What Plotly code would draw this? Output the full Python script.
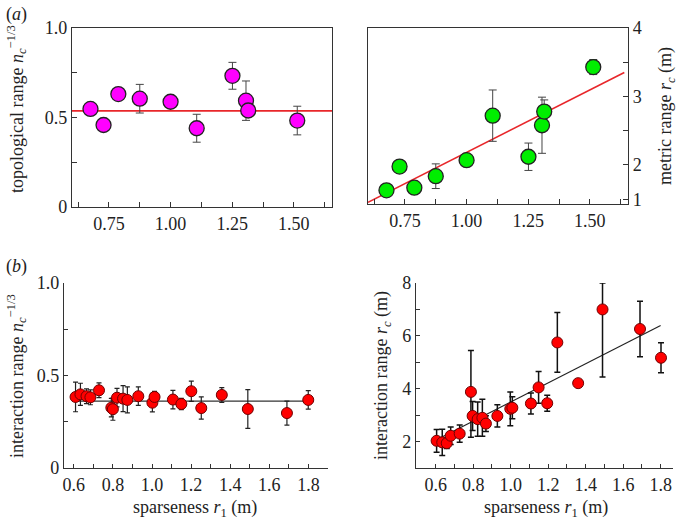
import plotly.graph_objects as go

# ---------------- data ----------------
# (a) left: topological range
a_x = [0.675, 0.728, 0.788, 0.875, 1.000, 1.106, 1.251, 1.306, 1.315, 1.514]
a_topo = [0.548, 0.458, 0.631, 0.605, 0.588, 0.440, 0.733, 0.594, 0.539, 0.483]
a_topo_err = [0, 0, 0, 0.080, 0, 0.078, 0.075, 0.110, 0, 0.080]
# (a) right: metric range
a_metric = [1.63, 1.976, 1.668, 1.836, 2.07, 2.72, 2.12, 2.58, 2.78, 3.43]
a_metric_err = [0, 0, 0, 0.18, 0, 0.375, 0.20, 0.41, 0.17, 0.11]

# (b) left: interaction range n_c^-1/3
b_x = [0.609, 0.634, 0.665, 0.685, 0.729, 0.792, 0.800, 0.821, 0.852, 0.874, 0.930,
       1.002, 1.013, 1.107, 1.150, 1.201, 1.252, 1.357, 1.490, 1.690, 1.799]
b_topo = [0.384, 0.398, 0.388, 0.382, 0.420, 0.326, 0.318, 0.380, 0.375, 0.368, 0.388,
          0.353, 0.384, 0.370, 0.346, 0.415, 0.324, 0.395, 0.319, 0.297, 0.368]
b_topo_err = [0.08, 0.06, 0.04, 0.04, 0.04, 0.05, 0.06, 0.05, 0.07, 0.07, 0.05,
              0.05, 0.03, 0.05, 0.03, 0.055, 0.06, 0.04, 0.105, 0.065, 0.05]

# (b) right: interaction range r_c
c_x = [0.605, 0.635, 0.659, 0.680, 0.728, 0.788, 0.797, 0.824, 0.849, 0.868, 0.929,
       0.998, 1.009, 1.108, 1.149, 1.195, 1.249, 1.360, 1.490, 1.690, 1.802]
c_metric = [2.03, 1.97, 1.94, 2.22, 2.30, 3.88, 2.97, 2.85, 2.90, 2.68, 2.97,
            3.24, 3.28, 3.44, 4.05, 3.45, 5.75, 4.21, 7.00, 6.26, 5.17]
c_err_plus = [0.43, 0.50, 0.20, 0.33, 0.33, 1.57, 0.55, 0.65, 0.70, 0.30, 0.42,
              0.64, 0.42, 0.40, 0.60, 0.30, 1.13, 0.0, 1.00, 1.05, 0.57]
c_err_minus = [0.43, 0.50, 0.20, 0.33, 0.33, 1.72, 0.55, 0.65, 0.70, 0.30, 0.42,
               0.64, 0.42, 0.40, 0.60, 0.30, 1.13, 0.0, 2.56, 1.05, 0.57]

# fit lines (slope, intercept, x-extent)
fit_a_topo = (0.0, 0.537, 0.60, 1.655)
fit_a_metric = (1.824, 0.359, 0.60, 1.64)
fit_b_topo = (0.0, 0.362, 0.61, 1.80)
fit_b_metric = (3.62, -0.123, 0.61, 1.80)

# tick labels
a_xticks = [0.75, 1.00, 1.25, 1.50]
a_xticktext = ["0.75", "1.00", "1.25", "1.50"]
a_metric_tickvals = [1.5, 2.0, 2.5, 3.0, 3.5, 4.0]
a_metric_ticktext = ["1", "2", "", "3", "", "4"]
b_xticks = [0.6, 0.8, 1.0, 1.2, 1.4, 1.6, 1.8]
b_xticktext = ["0.6", "0.8", "1.0", "1.2", "1.4", "1.6", "1.8"]


def fit_line(p):
    s, b, x0, x1 = p
    return [x0, x1], [b + s * x0, b + s * x1]


FONT = "Liberation Serif"
W, H = 680, 519

fig = go.Figure()

# ---- (a) left ----
fx, fy = fit_line(fit_a_topo)
fig.add_trace(go.Scatter(x=fx, y=fy, mode="lines", line=dict(color="#e8262a", width=1.6),
                         xaxis="x", yaxis="y", hoverinfo="skip"))
fig.add_trace(go.Scatter(
    x=a_x, y=a_topo, mode="markers", xaxis="x", yaxis="y",
    error_y=dict(type="data", array=a_topo_err, color="#444", thickness=1, width=4),
    marker=dict(size=15, color="#ff00ff", line=dict(color="#222", width=1.3))))

# ---- (a) right ----
fx, fy = fit_line(fit_a_metric)
fig.add_trace(go.Scatter(x=fx, y=fy, mode="lines", line=dict(color="#e8262a", width=1.6),
                         xaxis="x2", yaxis="y2", hoverinfo="skip"))
fig.add_trace(go.Scatter(
    x=a_x, y=a_metric, mode="markers", xaxis="x2", yaxis="y2",
    error_y=dict(type="data", array=a_metric_err, color="#444", thickness=1, width=4),
    marker=dict(size=15, color="#00ee00", line=dict(color="#222", width=1.3))))

# ---- (b) left ----
fx, fy = fit_line(fit_b_topo)
fig.add_trace(go.Scatter(x=fx, y=fy, mode="lines", line=dict(color="#333", width=1.2),
                         xaxis="x3", yaxis="y3", hoverinfo="skip"))
fig.add_trace(go.Scatter(
    x=b_x, y=b_topo, mode="markers", xaxis="x3", yaxis="y3",
    error_y=dict(type="data", array=b_topo_err, color="#222", thickness=1.2, width=2.5),
    marker=dict(size=11, color="#ff0000", line=dict(color="#700000", width=1))))

# ---- (b) right ----
fx, fy = fit_line(fit_b_metric)
fig.add_trace(go.Scatter(x=fx, y=fy, mode="lines", line=dict(color="#222", width=1.2),
                         xaxis="x4", yaxis="y4", hoverinfo="skip"))
fig.add_trace(go.Scatter(
    x=c_x, y=c_metric, mode="markers", xaxis="x4", yaxis="y4",
    error_y=dict(type="data", array=c_err_plus, arrayminus=c_err_minus,
                 color="#111", thickness=1.5, width=3),
    marker=dict(size=11, color="#ff0000", line=dict(color="#700000", width=1))))

tickfont = dict(family=FONT, size=18, color="#222")
base = dict(showgrid=False, zeroline=False, showline=True, linecolor="#333", linewidth=1.3,
            ticks="inside", tickcolor="#333", ticklen=5, tickwidth=1, tickfont=tickfont,
            automargin=False)
minor_a = dict(ticks="inside", ticklen=5, tickcolor="#333")
minor_b = dict(ticks="inside", ticklen=4, tickcolor="#333")


def px_x(x0, x1):
    return [x0 / W, x1 / W]


def px_y(top, bottom):
    return [1 - bottom / H, 1 - top / H]


fig.update_layout(
    width=W, height=H, margin=dict(l=0, r=0, t=0, b=0, autoexpand=False),
    paper_bgcolor="white", plot_bgcolor="white", showlegend=False,
    font=dict(family=FONT, color="#222"),
    xaxis=dict(base, domain=px_x(72, 332), range=[0.6, 1.655], anchor="y", mirror=True,
               tickvals=a_xticks, ticktext=a_xticktext,
               minor=dict(minor_a, dtick=0.125, tick0=0.625)),
    yaxis=dict(base, domain=px_y(28, 207), range=[0, 1.0], anchor="x", mirror=True,
               tickvals=[0, 0.5, 1.0], ticktext=["0", "0.5", "1.0"],
               minor=dict(minor_a, dtick=0.25)),
    xaxis2=dict(base, domain=px_x(368, 628), range=[0.6, 1.655], anchor="y2", mirror=True,
                tickvals=a_xticks, ticktext=a_xticktext,
                minor=dict(minor_a, dtick=0.125, tick0=0.625)),
    yaxis2=dict(base, domain=px_y(28, 204), range=[1.43, 4.0], anchor="x2", side="right",
                mirror=True, tickvals=a_metric_tickvals, ticktext=a_metric_ticktext),
    xaxis3=dict(base, domain=px_x(64, 328), range=[0.55, 1.9], anchor="y3", ticklen=4,
                tickvals=b_xticks, ticktext=b_xticktext,
                minor=dict(minor_b, dtick=0.1, tick0=0.6)),
    yaxis3=dict(base, domain=px_y(283, 468), range=[0, 1.0], anchor="x3", ticklen=4,
                tickvals=[0, 0.5, 1.0], ticktext=["0", "0.5", "1.0"],
                minor=dict(minor_b, dtick=0.25)),
    xaxis4=dict(base, domain=px_x(416, 673), range=[0.495, 1.866], anchor="y4", ticklen=4,
                tickvals=b_xticks, ticktext=b_xticktext,
                minor=dict(minor_b, dtick=0.1, tick0=0.5)),
    yaxis4=dict(base, domain=px_y(283, 468), range=[1, 8], anchor="x4", ticklen=4,
                tickvals=[2, 4, 6, 8], ticktext=["2", "4", "6", "8"],
                minor=dict(minor_b, dtick=1)),
)

titlefont = dict(family=FONT, size=18, color="#222")


def ann(text, x, y, angle=0, xanchor="center", yanchor="middle"):
    fig.add_annotation(text=text, x=x / W, y=1 - y / H, xref="paper", yref="paper",
                       showarrow=False, textangle=angle, font=titlefont,
                       xanchor=xanchor, yanchor=yanchor)


ann("(<i>a</i>)", 4, 14, xanchor="left")
ann("(<i>b</i>)", 4, 266, xanchor="left")
ann("topological range <i>n<sub>c</sub></i><sup>−1/3</sup>", 16, 109, angle=-90)
ann("metric range <i>r<sub>c</sub></i> (m)", 666, 116, angle=-90)
ann("interaction range <i>n<sub>c</sub></i><sup>−1/3</sup>", 16, 376, angle=-90)
ann("interaction range <i>r<sub>c</sub></i> (m)", 382, 376, angle=-90)
ann("sparseness <i>r</i><sub>1</sub> (m)", 195, 508)
ann("sparseness <i>r</i><sub>1</sub> (m)", 546, 508)

fig.write_html("out.html", config={"displayModeBar": False},
               post_script="document.body.style.margin='0';")
